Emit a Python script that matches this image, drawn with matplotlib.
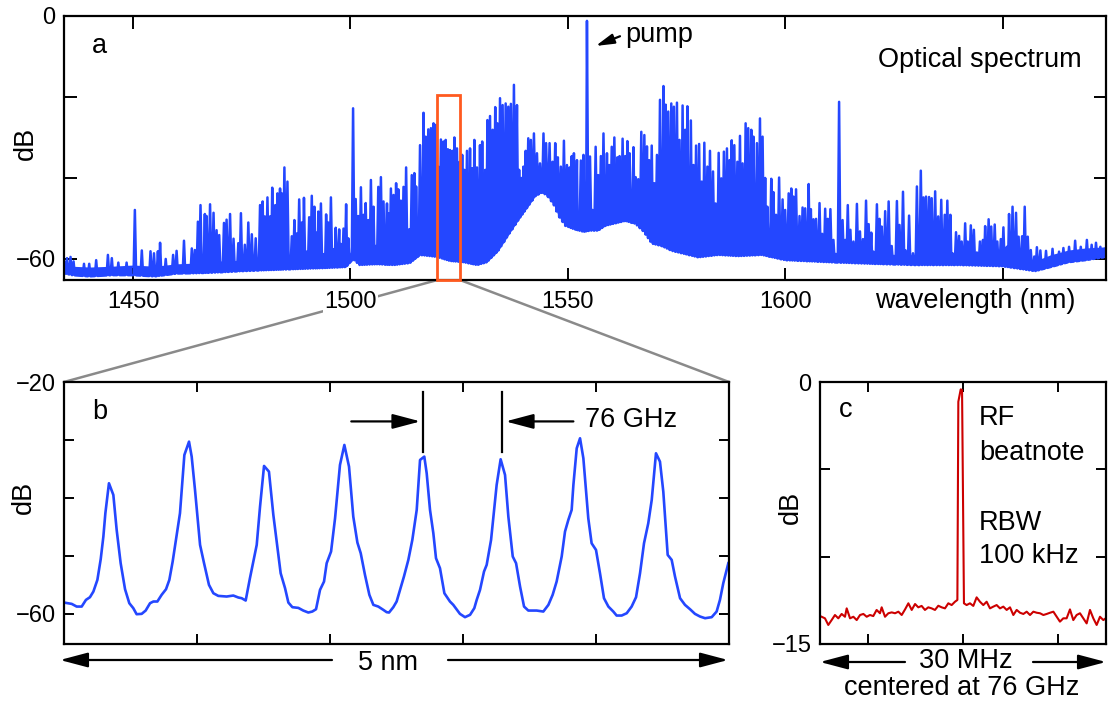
import numpy as np
import matplotlib.pyplot as plt
from matplotlib.patches import Rectangle, ConnectionPatch, FancyArrowPatch

plt.rcParams['font.family'] = ['Liberation Sans', 'DejaVu Sans']

# ---------------- panel a: optical spectrum (nm, dB) ----------------
floor_wl = [1434, 1436, 1440, 1445, 1450, 1455, 1460, 1465, 1470, 1475,
            1480, 1485, 1490, 1495, 1499, 1500.6, 1502, 1506, 1510, 1513.7,
            1516, 1519.9, 1522.9, 1526, 1529.1, 1531.4, 1534, 1536.7, 1539, 1540.9,
            1542.5, 1544, 1545.2, 1546.7, 1547.8, 1549.4, 1551.3, 1553.6, 1555.1, 1557,
            1558.6, 1560.9, 1563.2, 1565.5, 1567.4, 1569.3, 1571.6, 1573.9, 1577, 1580,
            1584.6, 1589.2, 1594.6, 1600, 1610, 1620, 1630, 1640, 1650, 1657.5,
            1661, 1665.1, 1669, 1673.8]
floor_lo = [-63.5, -64.0, -64.3, -64.0, -64.0, -64.3, -63.6, -63.5, -63.3, -63.0,
            -62.8, -62.6, -62.4, -62.2, -62.0, -60.0, -61.5, -61.3, -61.5, -61.0,
            -59.0, -59.5, -60.5, -60.8, -61.5, -60.8, -58.0, -53.5, -49.8, -47.0,
            -44.5, -43.6, -44.3, -46.5, -49.3, -51.8, -52.6, -53.3, -53.0, -53.0,
            -51.8, -51.2, -50.6, -51.3, -53.2, -56.2, -56.8, -58.0, -58.8, -59.6,
            -59.0, -59.3, -59.0, -60.3, -60.8, -61.2, -61.5, -61.5, -61.8, -63.0,
            -62.0, -60.8, -60.3, -59.5]
floor_hi = [-60.0, -61.8, -62.0, -61.8, -61.5, -61.8, -61.2, -61.0, -60.5, -60.3,
            -60.2, -60.0, -60.0, -59.8, -59.5, -57.5, -59.0, -58.8, -59.0, -58.5,
            -56.5, -57.0, -58.0, -58.3, -59.0, -58.3, -55.5, -51.0, -47.3, -44.5,
            -42.0, -41.1, -41.8, -44.0, -46.8, -49.3, -50.1, -50.8, -50.5, -50.5,
            -49.3, -48.7, -48.1, -48.8, -50.7, -53.7, -54.3, -55.5, -56.3, -57.1,
            -56.5, -56.8, -56.5, -57.8, -58.3, -58.7, -59.0, -59.0, -59.3, -60.5,
            -59.0, -57.8, -57.3, -57.0]

lines_blue_edge = [
    (1434.8, -59.8), (1435.6, -59.5), (1436.3, -60.6), (1438.7, -61.2), (1439.9, -61.2),
    (1441.5, -60.3), (1444.2, -59.0), (1445.1, -59.8), (1446.6, -60.9), (1448.5, -60.9),
    (1450.4, -47.9), (1452.0, -57.9), (1454.0, -58.1), (1454.8, -58.6), (1455.7, -58.1),
    (1456.2, -56.0), (1457.5, -60.0), (1459.2, -59.0), (1460.0, -58.0), (1461.7, -55.5),
    (1463.5, -57.4), (1464.2, -57.8), (1464.9, -50.8), (1465.5, -46.7), (1466.5, -48.9),
    (1466.9, -49.4), (1467.7, -46.5), (1468.5, -48.6), (1469.2, -52.9), (1469.8, -54.1),
    (1470.9, -51.1), (1471.5, -50.3), (1472.3, -48.9), (1473.1, -55.0), (1474.2, -56.1),
    (1474.8, -48.7), (1475.7, -56.5), (1476.5, -51.0), (1477.3, -53.9), (1478.2, -54.9),
    (1479.2, -46.7), (1479.8, -45.8), (1480.3, -49.5), (1480.9, -44.8), (1481.5, -49.5),
    (1482.0, -42.4), (1482.7, -46.7), (1483.2, -43.8), (1483.8, -42.6), (1484.2, -43.8),
    (1484.8, -37.4), (1485.5, -40.9), (1486.5, -54.4), (1487.1, -50.4), (1487.6, -53.7),
    (1488.2, -45.3), (1488.8, -51.0), (1489.3, -44.9), (1489.9, -58.2), (1490.5, -49.7),
    (1491.1, -44.4), (1491.7, -47.1), (1492.2, -53.5), (1492.6, -48.3), (1493.2, -46.3),
    (1493.9, -58.8), (1494.4, -49.0), (1494.9, -51.0), (1495.5, -44.8), (1496.1, -57.6),
    (1496.6, -52.3), (1497.4, -52.7), (1497.8, -56.3), (1498.4, -52.5), (1499.0, -46.5),
    (1499.5, -54.9),
]
lines_blue_left = [
    (1500.6, -22.8), (1501.2, -45.2), (1501.8, -49.4), (1502.4, -42.3), (1503.0, -49.1),
    (1503.5, -46.2), (1504.1, -50.4), (1504.7, -40.5), (1505.3, -47.1), (1505.8, -56.8),
    (1506.4, -42.2), (1507.0, -39.8), (1507.6, -45.8), (1508.4, -46.3), (1508.7, -48.7),
    (1509.3, -42.6), (1509.9, -44.2), (1510.5, -41.3), (1511.0, -42.8), (1511.6, -45.6),
    (1512.2, -42.2), (1512.8, -37.4), (1513.5, -52.7), (1514.1, -39.3), (1514.7, -38.8),
    (1515.1, -42.1), (1516.0, -31.9), (1516.8, -23.9), (1517.3, -29.8), (1517.9, -28.0),
    (1518.5, -27.7), (1519.1, -26.5), (1519.6, -26.9), (1520.2, -37.2), (1520.8, -30.5),
    (1521.4, -31.0), (1521.9, -30.6), (1522.4, -32.9), (1522.9, -33.1), (1523.5, -33.3),
    (1523.9, -30.0), (1524.5, -32.7), (1525.1, -36.0), (1525.7, -34.3), (1526.2, -38.0),
    (1526.8, -33.3), (1527.5, -32.7), (1528.0, -37.6), (1528.5, -30.6), (1529.1, -37.4),
    (1529.8, -31.9), (1530.3, -31.0), (1531.0, -38.0), (1531.5, -25.7), (1532.1, -24.7),
    (1532.7, -28.1), (1533.3, -22.5), (1533.8, -26.5), (1534.4, -20.3), (1535.0, -22.0),
    (1535.7, -21.6), (1536.3, -22.4), (1536.9, -21.7), (1537.6, -17.0), (1538.3, -22.0),
    (1538.8, -38.0), (1539.3, -40.0), (1539.8, -37.2), (1540.3, -33.3), (1540.9, -30.2),
    (1541.5, -30.6), (1542.2, -29.0), (1542.9, -33.9), (1543.6, -36.4), (1544.4, -29.0),
    (1545.0, -31.4), (1545.8, -31.4), (1546.5, -36.0), (1547.1, -31.4), (1547.7, -34.9),
    (1548.4, -37.2), (1549.1, -30.8), (1549.8, -36.8), (1550.4, -37.4), (1550.9, -34.6),
    (1551.4, -33.9), (1552.1, -35.6), (1552.4, -48.7), (1553.0, -35.7), (1553.6, -34.3),
    (1554.0, -42.0),
]
lines_blue_right = [
    (1555.1, -34.7), (1555.7, -47.9), (1556.4, -32.3), (1557.0, -39.3), (1557.6, -34.6),
    (1558.2, -29.0), (1559.0, -33.9), (1559.5, -36.8), (1560.1, -32.3), (1560.7, -30.0),
    (1561.4, -34.9), (1561.9, -34.6), (1562.6, -30.3), (1563.2, -34.6), (1563.7, -30.9),
    (1564.2, -33.9), (1565.1, -32.4), (1565.6, -39.8), (1566.2, -40.3), (1566.9, -28.6),
    (1567.6, -29.4), (1568.2, -32.2), (1568.7, -35.6), (1569.3, -32.0), (1569.9, -41.3),
    (1570.5, -34.3), (1571.2, -20.7), (1572.0, -17.3), (1572.5, -21.9), (1573.1, -23.6),
    (1573.8, -21.6), (1574.4, -22.4), (1575.1, -21.4), (1575.7, -30.6), (1576.4, -22.1),
    (1577.0, -28.1), (1577.5, -22.3), (1578.3, -25.8), (1578.9, -36.8), (1579.5, -32.0),
    (1580.2, -31.6), (1580.8, -40.9), (1581.4, -31.3), (1582.1, -37.2), (1582.7, -33.3),
    (1583.4, -38.4), (1584.0, -46.3), (1584.7, -33.8), (1585.3, -40.1), (1585.9, -33.5),
    (1586.6, -32.7), (1587.2, -35.6), (1587.7, -30.7), (1588.3, -31.9), (1589.0, -36.0),
    (1589.6, -29.6), (1590.2, -36.4), (1590.9, -26.5), (1591.5, -27.7), (1592.2, -28.1),
    (1592.7, -29.8), (1593.5, -31.4), (1594.2, -25.3), (1594.8, -29.8),
]
lines_blue_tail = [
    (1595.4, -40.0), (1595.9, -47.1), (1596.8, -40.2), (1597.3, -43.5), (1597.9, -49.1),
    (1598.6, -39.9), (1599.4, -45.3), (1600.0, -47.9), (1600.8, -43.8), (1601.4, -42.6),
    (1601.9, -44.6), (1602.5, -42.8), (1603.3, -49.4), (1604.0, -47.3), (1604.6, -47.5),
    (1605.4, -41.5), (1605.9, -47.7), (1606.5, -50.2), (1607.1, -50.1), (1607.9, -46.2),
    (1608.5, -53.8), (1609.2, -47.6), (1609.8, -50.1), (1610.4, -47.7), (1611.1, -55.3),
    (1612.4, -21.2), (1613.2, -50.4), (1613.8, -55.3), (1614.4, -46.7), (1615.0, -52.8),
    (1615.7, -55.7), (1616.5, -46.4), (1617.2, -53.2), (1617.9, -55.1), (1618.6, -45.6),
    (1619.2, -51.4), (1619.8, -53.5), (1620.3, -58.2), (1621.1, -46.5), (1621.7, -50.1),
    (1622.2, -52.0), (1623.0, -48.2), (1623.8, -45.8), (1624.5, -56.8), (1625.7, -45.7),
    (1626.3, -51.6), (1627.1, -43.4), (1627.7, -57.9), (1628.5, -49.3), (1629.4, -58.6),
    (1630.3, -42.1), (1631.2, -38.2), (1631.8, -44.8), (1632.4, -44.6), (1633.1, -44.7),
    (1633.7, -45.0), (1634.5, -43.3), (1635.2, -49.5), (1635.9, -45.4), (1636.7, -49.1),
    (1637.3, -45.6), (1638.0, -49.1), (1638.5, -58.6), (1639.3, -53.4), (1640.0, -54.3),
    (1640.6, -55.7), (1641.4, -51.2), (1642.0, -55.7), (1642.7, -51.7), (1643.4, -52.8),
    (1644.1, -58.4), (1644.8, -55.7), (1645.5, -55.3), (1646.0, -51.9), (1646.8, -50.2),
    (1647.4, -52.0), (1648.2, -51.5), (1648.8, -55.7), (1649.6, -55.1), (1650.2, -52.2),
    (1651.0, -57.0), (1651.5, -48.9), (1652.3, -47.1), (1653.1, -48.6), (1653.7, -54.5),
    (1654.5, -54.4), (1655.1, -47.1), (1655.8, -54.5), (1656.5, -57.8), (1657.3, -59.4),
    (1657.9, -57.1), (1658.7, -57.9), (1660.0, -58.0), (1661.5, -57.5), (1663.0, -58.2),
    (1664.0, -57.3), (1665.3, -57.0), (1666.7, -55.5), (1668.0, -57.0), (1669.4, -55.3),
    (1670.5, -56.5), (1671.5, -56.0), (1672.5, -57.0), (1673.5, -57.5),
]
pump = (1554.4, -1.2)
zoom_wl = (1520.0, 1525.2)   # region shown in panel b
zoom_top = -19.5

# ---------------- panel b: zoom (nm from start, dB) ----------------
b_nm = [0.000, 0.058, 0.095, 0.133, 0.165, 0.195, 0.221, 0.251, 0.276, 0.296,
        0.311, 0.338, 0.371, 0.396, 0.426, 0.459, 0.491, 0.521, 0.546, 0.584,
        0.614, 0.647, 0.672, 0.702, 0.734, 0.767, 0.792, 0.817, 0.847, 0.872,
        0.905, 0.940, 0.960, 0.985, 1.023, 1.053, 1.090, 1.123, 1.160, 1.223,
        1.273, 1.311, 1.336, 1.366, 1.398, 1.429, 1.449, 1.474, 1.504, 1.541,
        1.574, 1.599, 1.629, 1.662, 1.687, 1.717, 1.762, 1.799, 1.837, 1.867,
        1.895, 1.925, 1.955, 1.975, 2.008, 2.038, 2.075, 2.108, 2.143, 2.175,
        2.206, 2.231, 2.263, 2.296, 2.326, 2.363, 2.401, 2.426, 2.444, 2.476,
        2.501, 2.556, 2.589, 2.619, 2.652, 2.677, 2.709, 2.727, 2.752, 2.777,
        2.797, 2.827, 2.860, 2.902, 2.927, 2.977, 3.015, 3.053, 3.085, 3.103,
        3.128, 3.158, 3.178, 3.211, 3.241, 3.253, 3.283, 3.316, 3.341, 3.374,
        3.399, 3.429, 3.459, 3.491, 3.554, 3.604, 3.642, 3.674, 3.704, 3.742,
        3.767, 3.792, 3.817, 3.830, 3.855, 3.880, 3.905, 3.942, 3.967, 4.000,
        4.030, 4.060, 4.093, 4.130, 4.155, 4.193, 4.231, 4.268, 4.301, 4.331,
        4.361, 4.393, 4.419, 4.451, 4.481, 4.506, 4.539, 4.569, 4.594, 4.632,
        4.669, 4.707, 4.744, 4.782, 4.820, 4.870, 4.907, 4.932, 4.957, 4.995]
b_db = [-58.05, -58.28, -58.74, -58.74, -57.59, -57.13, -56.15, -54.14, -50.57, -46.67,
        -42.64, -37.47, -39.48, -45.52, -51.26, -55.75, -58.16, -59.02, -60.06, -60.00,
        -59.43, -58.16, -57.87, -57.87, -56.72, -55.75, -54.14, -50.98, -46.38, -42.64,
        -32.59, -30.29, -32.87, -38.62, -48.10, -51.26, -55.00, -56.44, -56.90, -57.01,
        -56.84, -57.18, -57.30, -57.70, -53.85, -50.40, -48.10, -41.49, -34.48, -35.46,
        -42.93, -47.53, -52.99, -55.57, -58.05, -58.85, -58.97, -59.43, -59.77, -59.60,
        -59.20, -55.86, -54.43, -51.26, -49.25, -43.51, -34.31, -30.86, -34.60, -43.22,
        -47.70, -49.54, -53.28, -56.72, -58.45, -58.74, -59.31, -59.71, -59.77, -58.85,
        -57.87, -53.56, -50.69, -47.24, -42.07, -33.45, -32.87, -35.75, -42.07, -46.09,
        -50.40, -52.13, -56.44, -57.87, -58.45, -60.00, -60.57, -60.17, -59.02, -57.59,
        -55.86, -52.70, -51.55, -47.24, -40.34, -37.76, -33.33, -36.03, -43.22, -50.11,
        -51.26, -55.29, -58.74, -59.43, -59.43, -59.60, -58.45, -56.72, -54.43, -50.11,
        -45.80, -43.79, -42.07, -37.76, -31.44, -29.71, -33.16, -43.51, -47.82, -48.97,
        -52.99, -57.30, -58.74, -59.60, -60.29, -60.29, -59.89, -58.74, -57.13, -52.99,
        -47.82, -44.37, -40.34, -32.30, -33.74, -38.91, -49.83, -50.69, -53.56, -57.30,
        -58.45, -59.20, -60.00, -60.46, -60.75, -60.57, -59.60, -57.59, -54.71, -51.26]
spacing_nm = (2.70, 3.29)    # the two lines marked 76 GHz apart

# ---------------- panel c: RF beatnote (MHz from 76 GHz, dB) ----------------
c_mhz = [-14.83, -14.48, -14.13, -13.78, -13.43, -13.08, -12.73, -12.38, -12.20, -11.85,
         -11.50, -11.15, -10.80, -10.45, -10.10, -9.76, -9.41, -9.06, -8.71, -8.53,
         -8.18, -7.83, -7.48, -7.13, -6.78, -6.43, -6.08, -5.73, -5.38, -5.03,
         -4.69, -4.34, -3.99, -3.64, -3.29, -2.94, -2.59, -2.24, -1.89, -1.54,
         -1.19, -0.84, -0.59, -0.49, -0.24, -0.10, 0.10, 0.38, 0.73, 1.08,
         1.43, 1.78, 2.13, 2.48, 2.83, 3.18, 3.53, 3.88, 4.23, 4.58,
         4.93, 5.28, 5.63, 5.98, 6.33, 6.68, 7.03, 7.38, 7.73, 8.08,
         8.43, 8.78, 9.13, 9.48, 9.83, 10.17, 10.52, 10.87, 11.22, 11.57,
         11.92, 12.27, 12.62, 12.97, 13.32, 13.67, 14.02, 14.37, 14.72, 14.97]
c_db = [-13.44, -13.53, -13.91, -13.63, -13.34, -13.53, -13.28, -13.44, -12.96, -13.53,
        -13.44, -13.63, -13.34, -13.28, -13.44, -13.34, -13.40, -13.05, -13.24, -12.90,
        -13.44, -13.24, -13.19, -13.24, -13.15, -13.34, -13.02, -12.67, -13.05, -12.71,
        -12.90, -12.82, -13.05, -12.90, -12.96, -13.05, -12.81, -12.90, -12.96, -12.67,
        -12.77, -12.58, -12.48, -1.13, -0.42, -0.46, -12.67, -12.77, -12.67, -12.82,
        -12.33, -12.58, -12.77, -12.58, -12.96, -12.86, -12.77, -12.96, -12.86, -13.05,
        -12.90, -13.34, -13.05, -13.21, -13.28, -13.15, -13.34, -13.15, -13.21, -13.24,
        -13.34, -13.28, -13.21, -13.15, -13.44, -13.72, -13.53, -13.53, -13.02, -13.63,
        -13.34, -13.24, -13.53, -13.82, -13.05, -13.53, -13.91, -13.44, -13.63, -13.53]

blue = '#2447ff'
red = '#cc0000'
orange = '#ff5a1f'
grey = '#8a8a8a'

W, H = 1111, 702
fig = plt.figure(figsize=(W / 100, H / 100), dpi=100)


def box(l, t, r, b):
    return [l / W, 1 - b / H, (r - l) / W, (b - t) / H]


def px(x, y):
    return (x / W, 1 - y / H)


def style(ax, length):
    for s in ax.spines.values():
        s.set_linewidth(1.6)
    ax.tick_params(direction='in', top=True, right=True, length=length,
                   width=1.4, labelsize=17)
    ax.tick_params(axis='y', pad=6)
    ax.tick_params(axis='x', pad=8)


ax_a = fig.add_axes(box(64, 16, 1106, 280))
ax_b = fig.add_axes(box(64, 382, 729, 644))
ax_c = fig.add_axes(box(820, 382, 1106, 644))

# panel a: each comb line drawn as a narrow peak rising from the floor
lines = sorted(lines_blue_edge + lines_blue_left + [pump] + lines_blue_right + lines_blue_tail)
half = 0.3   # half of the comb spacing, nm
tx, ty = [], []
for i, (w, p) in enumerate(lines):
    lo = w - half if i == 0 else max(w - half, (lines[i - 1][0] + w) / 2)
    hi = w + half if i == len(lines) - 1 else min(w + half, (lines[i + 1][0] + w) / 2)
    tx += [lo, w, hi]
    ty += [np.interp(lo, floor_wl, floor_lo), p, np.interp(hi, floor_wl, floor_lo)]
ax_a.fill_between(floor_wl, floor_lo, floor_hi, color=blue, lw=0)
ax_a.plot(tx, ty, color=blue, lw=1.8)
ax_a.set_xlim(1434.1, 1673.8)
ax_a.set_ylim(-65.2, 0)
ax_a.set_xticks([1450, 1500, 1550, 1600, 1650])
ax_a.set_xticklabels(['1450', '1500', '1550', '1600', ''])
ax_a.set_yticks([0, -20, -40, -60])
ax_a.set_yticklabels(['0', '', '', '\u221260'])
style(ax_a, 9)
ax_a.get_xticklabels()[1].set_bbox(dict(facecolor='white', edgecolor='none', pad=1))

ax_a.add_patch(Rectangle((zoom_wl[0], -65.2), zoom_wl[1] - zoom_wl[0], zoom_top + 65.2,
                         fill=False, ec=orange, lw=2, clip_on=False, zorder=5))
for xa, xb in [(zoom_wl[0], 0), (zoom_wl[1], 1)]:
    con = ConnectionPatch(xyA=(xa, -65.2), coordsA=ax_a.transData,
                          xyB=(xb, 1), coordsB=ax_b.transAxes,
                          color=grey, lw=1.8, zorder=-1)
    fig.add_artist(con)

ax_a.annotate('', xy=(1556.4, -7.4), xytext=(1562.0, -5.0),
              arrowprops=dict(arrowstyle='-|>,head_length=1.1,head_width=0.3',
                              mutation_scale=10, lw=1.6, color='k',
                              shrinkA=0, shrinkB=0))

# panel b
ax_b.plot(b_nm, b_db, color=blue, lw=1.9)
ax_b.set_xlim(0, 5)
ax_b.set_ylim(-65.2, -20)
ax_b.set_xticks([1, 2, 3, 4])
ax_b.set_xticklabels([])
ax_b.set_yticks([-20, -30, -40, -50, -60])
ax_b.set_yticklabels(['\u221220', '', '', '', '\u221260'])
style(ax_b, 7)

for x in spacing_nm:
    ax_b.plot([x, x], [-21.7, -32.0], color='k', lw=1.6)
head = '-|>,head_length=1.7,head_width=0.45'
ax_b.annotate('', xy=(spacing_nm[0] - 0.02, -26.8), xytext=(2.16, -26.8),
              arrowprops=dict(arrowstyle=head, mutation_scale=10, lw=1.6, color='k',
                              shrinkA=0, shrinkB=0))
ax_b.annotate('', xy=(spacing_nm[1] + 0.03, -26.8), xytext=(3.83, -26.8),
              arrowprops=dict(arrowstyle=head, mutation_scale=10, lw=1.6, color='k',
                              shrinkA=0, shrinkB=0))

# panel c
ax_c.plot(c_mhz, c_db, color=red, lw=1.5)
ax_c.set_xlim(-15, 15)
ax_c.set_ylim(-15, 0)
ax_c.set_xticks([-10, 0, 10])
ax_c.set_xticklabels([])
ax_c.set_yticks([0, -5, -10, -15])
ax_c.set_yticklabels(['0', '', '', '\u221215'])
style(ax_c, 7)

# span arrows under b and c
for (x0, x1), y in [((332, 60), 660), ((448, 728), 660), ((905, 820), 662), ((1033, 1106), 662)]:
    fig.add_artist(FancyArrowPatch(
        px(x0, y), px(x1, y), transform=fig.transFigure, arrowstyle=head,
        mutation_scale=10, lw=1.6, color='k', shrinkA=0, shrinkB=0))

# texts
fs = 19.5
fig.text(*px(92, 53), 'a', fontsize=fs, va='baseline')
fig.text(*px(1082, 66.7), 'Optical spectrum', fontsize=fs, ha='right', va='baseline')
fig.text(*px(625, 41.7), 'pump', fontsize=fs, va='baseline')
fig.text(*px(875, 308), 'wavelength (nm)', fontsize=fs, va='baseline')
fig.text(*px(92, 419), 'b', fontsize=fs, va='baseline')
fig.text(*px(585, 426.7), '76 GHz', fontsize=fs, va='baseline')
fig.text(*px(388, 670), '5 nm', fontsize=fs, ha='center', va='baseline')
fig.text(*px(839, 416.7), 'c', fontsize=fs, va='baseline')
fig.text(*px(979, 425), 'RF', fontsize=fs, va='baseline')
fig.text(*px(979, 460), 'beatnote', fontsize=fs, va='baseline')
fig.text(*px(979, 530), 'RBW', fontsize=fs, va='baseline')
fig.text(*px(979, 563), '100 kHz', fontsize=fs, va='baseline')
fig.text(*px(966, 668), '30 MHz', fontsize=fs, ha='center', va='baseline')
fig.text(*px(962, 695), 'centered at 76 GHz', fontsize=fs, ha='center', va='baseline')
for x, y in [(26, 143), (24, 497), (791, 507)]:
    fig.text(*px(x, y), 'dB', fontsize=fs, rotation=90, ha='center', va='center')

fig.savefig('out.png', dpi=100)
